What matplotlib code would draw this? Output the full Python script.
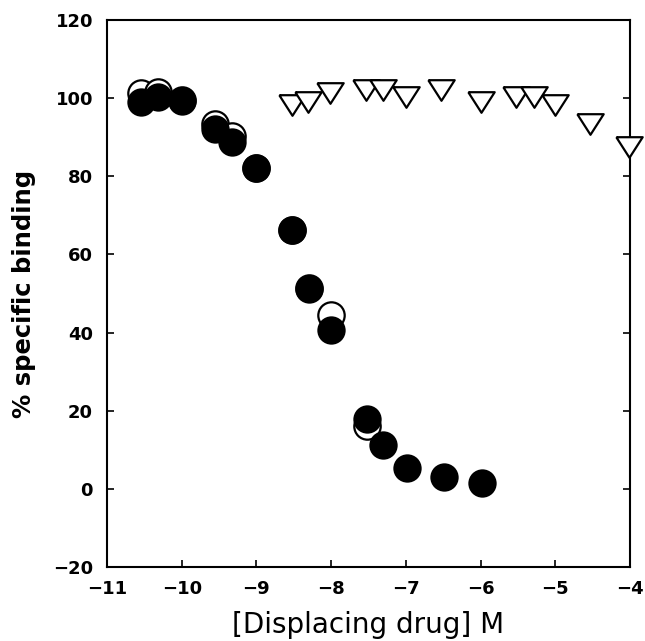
import matplotlib
matplotlib.use("Agg")
import matplotlib.pyplot as plt

# Data (log molar concentration vs % specific binding)
open_x = [-10.55, -10.32, -10.0, -9.55, -9.33, -9.0, -8.52, -8.3, -8.0, -7.52]
open_y = [101.3, 101.5, 99.5, 93.3, 90.4, 82.2, 66.2, 51.3, 44.5, 16.2]

filled_x = [-10.55, -10.32, -10.0, -9.55, -9.33, -9.0, -8.52, -8.3, -8.0,
            -7.52, -7.3, -6.98, -6.49, -5.98]
filled_y = [99.1, 100.4, 99.2, 92.0, 88.9, 82.2, 66.2, 51.2, 40.6,
            18.0, 11.1, 5.3, 3.0, 1.4]

tri_x = [-8.52, -8.31, -8.01, -7.53, -7.31, -7.0, -6.53, -6.0, -5.52,
         -5.29, -5.01, -4.54, -4.01]
tri_y = [98.2, 99.1, 101.3, 102.2, 102.2, 100.3, 102.2, 99.1, 100.3,
         100.3, 98.3, 93.4, 87.4]

xticks = [-11, -10, -9, -8, -7, -6, -5, -4]
yticks = [-20, 0, 20, 40, 60, 80, 100, 120]

fig = plt.figure(figsize=(6.45, 6.41), dpi=100)
ax = fig.add_axes([107 / 645, 1 - 567 / 641, (630 - 107) / 645, (567 - 20) / 641])

ax.plot(open_x, open_y, linestyle='none', marker='o', ms=19, mfc='white',
        mec='black', mew=1.6, zorder=3, clip_on=False)
ax.plot(filled_x, filled_y, linestyle='none', marker='o', ms=19, mfc='black',
        mec='black', mew=1.4, zorder=4, clip_on=False)
tri_marker = [(-1, 0.78), (1, 0.78), (0, -0.78), (-1, 0.78)]
ax.plot(tri_x, tri_y, linestyle='none', marker=tri_marker, ms=19, mfc='white',
        mec='black', mew=1.6, zorder=3, clip_on=False)

ax.set_xlim(-11, -4)
ax.set_ylim(-20, 120)
ax.set_xticks(xticks)
ax.set_yticks(yticks)
ax.set_xticklabels([f"\u2212{abs(t)}" for t in xticks])
ax.set_yticklabels([f"\u2212{abs(t)}" if t < 0 else str(t) for t in yticks])

for s in ax.spines.values():
    s.set_linewidth(1.5)
ax.tick_params(direction='in', length=5, width=1.2, right=True, top=False,
               labelsize=13)
ax.tick_params(axis='x', pad=9)
ax.tick_params(axis='y', pad=10)
for lab in ax.get_xticklabels() + ax.get_yticklabels():
    lab.set_fontweight('bold')
    lab.set_fontfamily('DejaVu Sans')

ax.set_ylabel('% specific binding', fontsize=17.5, fontweight='bold',
              fontfamily='DejaVu Sans', labelpad=12)
ax.set_xlabel('[Displacing drug] M', fontsize=20, fontfamily='DejaVu Sans',
              labelpad=10)

fig.savefig('out.png', dpi=100)
